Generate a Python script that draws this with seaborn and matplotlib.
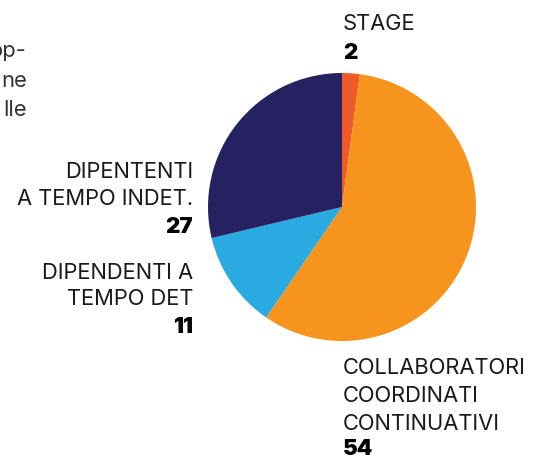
import matplotlib.pyplot as plt
import seaborn as sns

# categories, clockwise from 12 o'clock
categories = ['STAGE', 'COLLABORATORI\nCOORDINATI\nCONTINUATIVI', 'DIPENDENTI A\nTEMPO DET', 'DIPENTENTI\nA TEMPO INDET.']
values = [2, 54, 11, 27]
colors = ['#F05A28', '#F7941D', '#29ABE2', '#262262']
intro_text = ['op-', 'ne', 'lle']

sns.set_theme(style='white')
plt.rcParams['font.family'] = ['Inter', 'DejaVu Sans']

W, H = 535, 457
fig = plt.figure(figsize=(W / 100, H / 100), dpi=100)
ax = fig.add_axes([0, 0, 1, 1])

ax.pie(values, colors=colors, startangle=90, counterclock=False,
       center=(342, H - 207), radius=134, frame=False,
       wedgeprops={'linewidth': 0})
ax.set_xlim(0, W)
ax.set_ylim(0, H)
ax.set_aspect('equal')
ax.axis('off')

lab_kw = dict(fontsize=15.8, color='#1a1a1a', va='baseline')
num_kw = dict(fontsize=16, color='#000000', fontweight='black', va='baseline')


def label_block(x, baselines, text, value, ha):
    # one text per line so the line pitch matches the reference
    lines = text.split('\n')
    for line, y in zip(lines, baselines):
        ax.text(x, H - y, line, ha=ha, **lab_kw)
    ax.text(x, H - baselines[-1], str(value), ha=ha, **num_kw)


# fragment of a paragraph cut off at the left
for line, y in zip(intro_text, [57, 87, 116]):
    ax.text(27, H - y, line, ha='right', **dict(lab_kw, color='#333333'))

label_block(343, [30, 59], categories[0], values[0], 'left')
label_block(343, [374, 402, 430, 455], categories[1], values[1], 'left')
label_block(193, [178, 205, 233], categories[3], values[3], 'right')
label_block(193, [279, 305, 333], categories[2], values[2], 'right')

fig.savefig('out.png', dpi=100)
